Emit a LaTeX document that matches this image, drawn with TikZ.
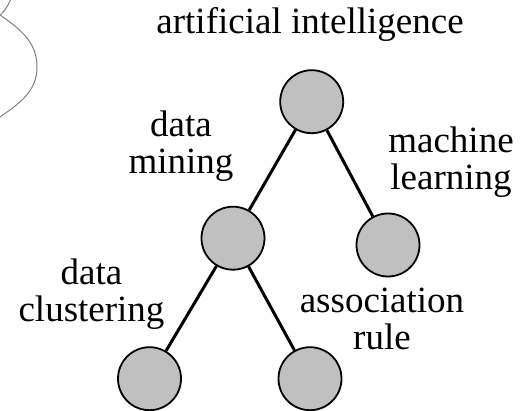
\documentclass[tikz,border=0pt]{standalone}
\usepackage{fontspec}
\setmainfont{Liberation Serif}
\usetikzlibrary{positioning}

\definecolor{nodegray}{HTML}{C0C0C0}
\definecolor{cloudgray}{HTML}{808080}

\begin{document}
\begin{tikzpicture}[x=1pt,y=1pt,on grid,
    topic/.style={circle,draw,fill=nodegray,line width=1.8pt,minimum size=63pt,inner sep=0pt},
    tag/.style={align=center,anchor=base,inner sep=0pt,font=\fontsize{37}{37}\selectfont},
    link/.style={line width=3pt}]
        \useasboundingbox (0,0) rectangle (521,411);
        % cut-off bubble at the left
        \draw[cloudgray,line width=1pt]
            (11,412) to[out=-115,in=40] (-2,394)
            (0,396) to[out=-35,in=90] (37,344) to[out=-90,in=35] (0,294);
        \node[topic] (ai) at (311.7,309.3) {};
        \node[topic] (dm) [below left=136.5pt and 78.7pt of ai] {};
        \node[topic] (ml) [below right=143.3pt and 76.3pt of ai] {};
        \node[topic] (dc) [below left=140.5pt and 83.5pt of dm] {};
        \node[topic] (ar) [below right=140.5pt and 77pt of dm] {};
        % base of a two-line tag is its last line
        \node[tag] (ai_t) at (310,377) {artificial intelligence};
        \node[tag] (dm_t) at (181,237) {data\\mining};
        \node[tag] (ml_t) at (451,221.7) {machine\\learning};
        \node[tag] (dc_t) at (91.5,89.5) {data\\clustering};
        \node[tag] (ar_t) at (382,61.7) {association\\rule};
        \path[link]
            (ai)
                edge (dm)
                edge (ml)
            (dm)
                edge (dc)
                edge (ar);
\end{tikzpicture}
\end{document}
